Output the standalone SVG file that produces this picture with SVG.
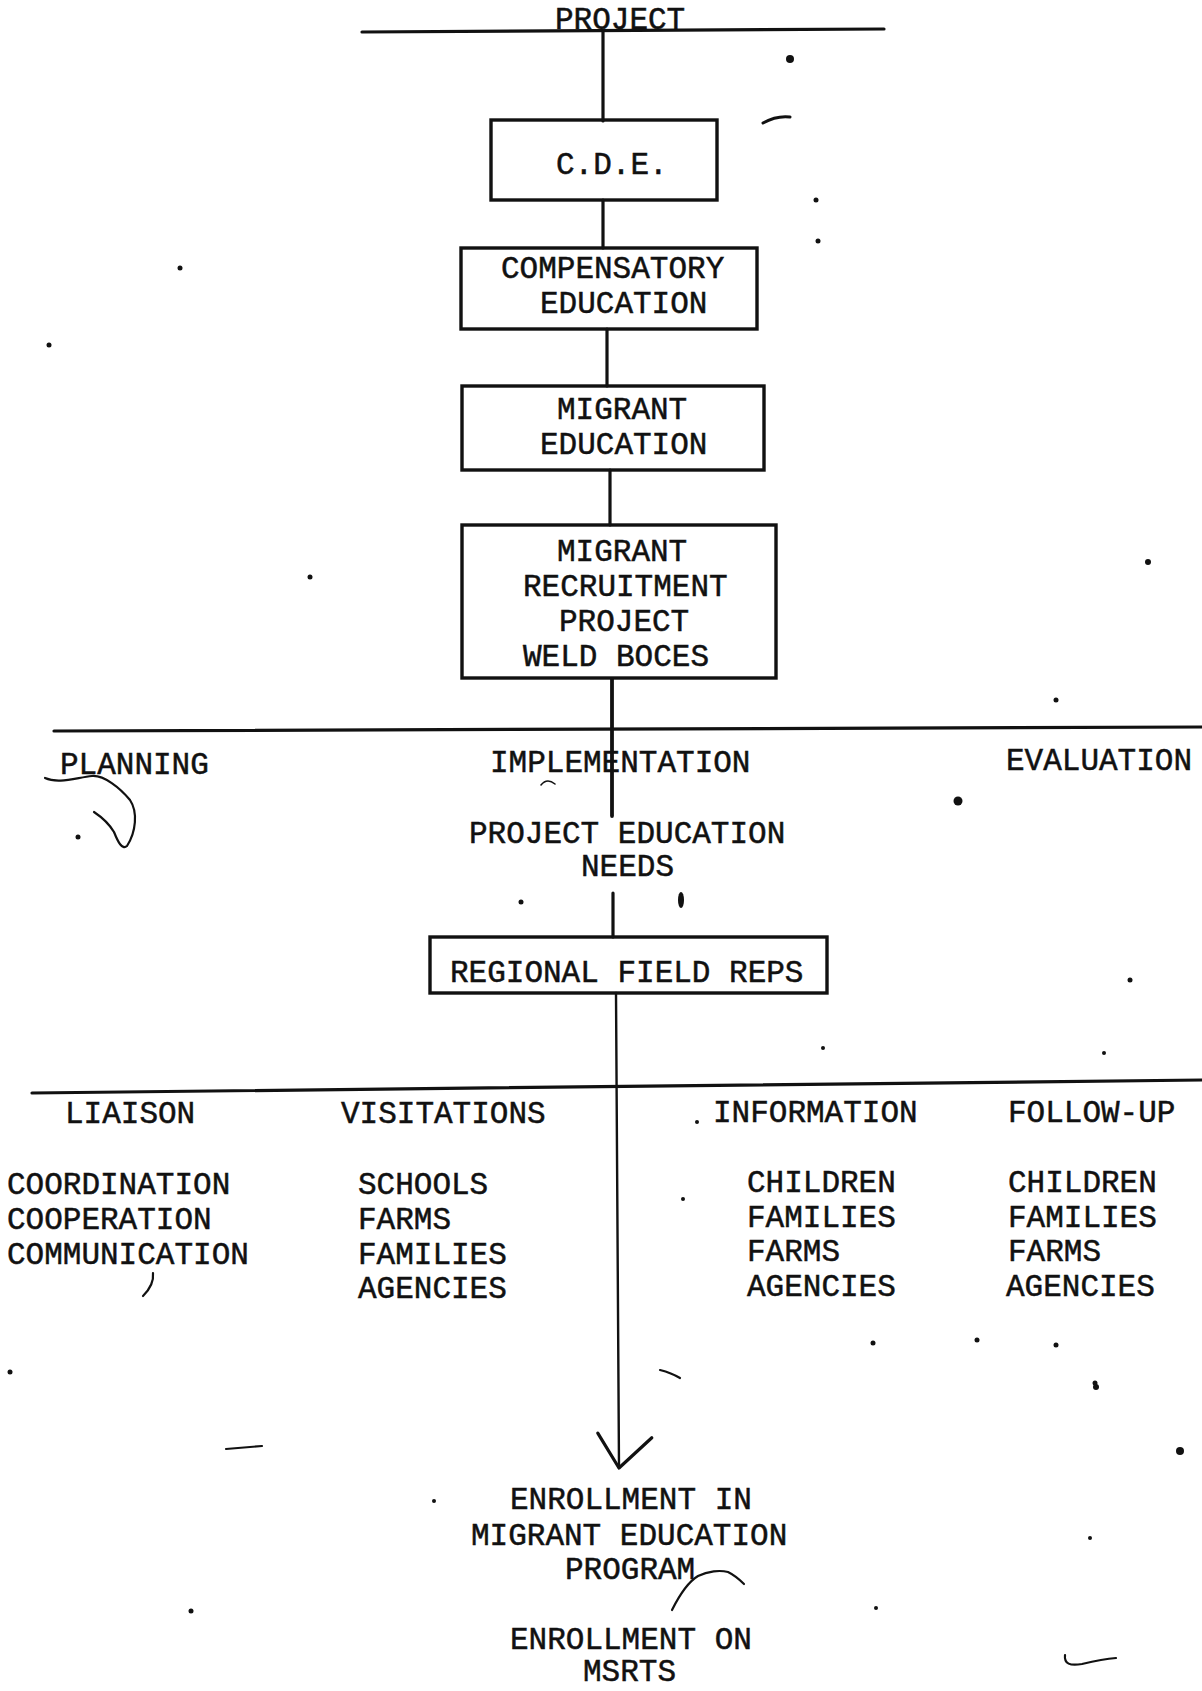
<svg xmlns="http://www.w3.org/2000/svg" width="1202" height="1691" viewBox="0 0 1202 1691">
<style>
.t{font-family:"Liberation Mono","DejaVu Sans Mono",monospace;font-size:31px;fill:#111;stroke:#111;stroke-width:0.5;}
.box{fill:none;stroke:#111;stroke-width:3.4;}
.ln{fill:none;stroke:#111;stroke-width:3.2;stroke-linecap:round;}
.thin{fill:none;stroke:#111;stroke-width:2.4;stroke-linecap:round;}
.pen{fill:none;stroke:#111;stroke-width:2.2;stroke-linecap:round;stroke-linejoin:round;}
.sp{fill:#111;}
</style>
<defs>
<marker id="vhead" markerUnits="userSpaceOnUse" markerWidth="80" markerHeight="80" refX="0" refY="0" orient="auto" overflow="visible">
<path d="M-35,21 L0,0 L-30,-33" fill="none" stroke="#111" stroke-width="3.2" stroke-linecap="round" stroke-linejoin="round"/>
</marker>
</defs>
<rect width="1202" height="1691" fill="#fff"/>

<g id="connectors">
<path class="ln" d="M362,32 L884,29"/>
<path class="ln" d="M603,32 V121"/>
<path class="ln" d="M603,200 V248"/>
<path class="ln" d="M607,329 V386"/>
<path class="ln" d="M610,470 V525"/>
<path class="ln" d="M612,679 V816" style="stroke-width:3.8"/>
<path class="ln" d="M54,731 L1202,727"/>
<path class="ln" d="M613,893 V937"/>
<path class="ln" d="M32,1093 L1202,1080"/>
<path class="thin" d="M616,993 L619,1468" marker-end="url(#vhead)"/>
</g>

<g id="project">
<text class="t" x="555" y="29">PROJECT</text>
</g>

<g id="cde">
<rect class="box" x="491" y="120" width="226" height="80"/>
<text class="t" x="556" y="174">C.D.E.</text>
</g>

<g id="compensatory">
<rect class="box" x="461" y="248" width="296" height="81"/>
<text class="t" x="501" y="278">COMPENSATORY</text>
<text class="t" x="540" y="313">EDUCATION</text>
</g>

<g id="migrant-education">
<rect class="box" x="462" y="386" width="302" height="84"/>
<text class="t" x="557" y="419">MIGRANT</text>
<text class="t" x="540" y="454">EDUCATION</text>
</g>

<g id="recruitment">
<rect class="box" x="462" y="525" width="314" height="153"/>
<text class="t" x="557" y="561">MIGRANT</text>
<text class="t" x="523" y="596">RECRUITMENT</text>
<text class="t" x="559" y="631">PROJECT</text>
<text class="t" x="523" y="666">WELD BOCES</text>
</g>

<g id="phases">
<text class="t" x="60" y="774">PLANNING</text>
<text class="t" x="490" y="772">IMPLEMENTATION</text>
<text class="t" x="1006" y="770">EVALUATION</text>
</g>

<g id="needs">
<text class="t" x="469" y="843">PROJECT EDUCATION</text>
<text class="t" x="581" y="876">NEEDS</text>
</g>

<g id="field-reps">
<rect class="box" x="430" y="937" width="397" height="56"/>
<text class="t" x="450" y="982">REGIONAL FIELD REPS</text>
</g>

<g id="liaison">
<text class="t" x="65" y="1123">LIAISON</text>
<text class="t" x="7" y="1194">COORDINATION</text>
<text class="t" x="7" y="1229">COOPERATION</text>
<text class="t" x="7" y="1264">COMMUNICATION</text>
</g>

<g id="visitations">
<text class="t" x="341" y="1123">VISITATIONS</text>
<text class="t" x="358" y="1194">SCHOOLS</text>
<text class="t" x="358" y="1229">FARMS</text>
<text class="t" x="358" y="1264">FAMILIES</text>
<text class="t" x="358" y="1298">AGENCIES</text>
</g>

<g id="information">
<text class="t" x="713" y="1122">INFORMATION</text>
<text class="t" x="747" y="1192">CHILDREN</text>
<text class="t" x="747" y="1227">FAMILIES</text>
<text class="t" x="747" y="1261">FARMS</text>
<text class="t" x="747" y="1296">AGENCIES</text>
</g>

<g id="follow-up">
<text class="t" x="1008" y="1122">FOLLOW-UP</text>
<text class="t" x="1008" y="1192">CHILDREN</text>
<text class="t" x="1008" y="1227">FAMILIES</text>
<text class="t" x="1008" y="1261">FARMS</text>
<text class="t" x="1006" y="1296">AGENCIES</text>
</g>

<g id="enrollment-program">
<text class="t" x="510" y="1509">ENROLLMENT IN</text>
<text class="t" x="471" y="1545">MIGRANT EDUCATION</text>
<text class="t" x="565" y="1579">PROGRAM</text>
</g>

<g id="enrollment-msrts">
<text class="t" x="510" y="1649">ENROLLMENT ON</text>
<text class="t" x="583" y="1681">MSRTS</text>
</g>

<g id="pen-marks">
<path class="pen" d="M45,778 C58,784 75,778 92,776 C104,775 120,788 130,800 C138,812 136,832 127,846 C122,850 118,842 114,832 C108,822 100,816 94,812"/>
<path class="pen" d="M153,1273 C154,1282 149,1290 143,1296"/>
<path class="pen" d="M672,1610 C680,1594 688,1582 698,1576 C708,1571 720,1570 728,1572 C734,1575 740,1580 744,1584"/>
<path class="pen" d="M1065,1655 C1064,1664 1070,1666 1082,1664 C1095,1661 1105,1659 1116,1658"/>
<path class="pen" d="M763,123 C772,118 782,116 790,117" style="stroke-width:3"/>
<path class="pen" d="M226,1449 L262,1446"/>
<path class="pen" d="M660,1370 C668,1372 675,1375 680,1378"/>
<path class="pen" d="M541,785 C545,780 550,780 555,784" style="stroke-width:1.6"/>
</g>

<g id="specks">
<circle class="sp" cx="790" cy="59" r="4"/>
<circle class="sp" cx="958" cy="801" r="4.5"/>
<ellipse class="sp" cx="681" cy="900" rx="3" ry="8"/>
<circle class="sp" cx="1180" cy="1451" r="4"/>
<circle class="sp" cx="1096" cy="1387" r="3"/>
<circle class="sp" cx="1148" cy="562" r="3"/>
<circle class="sp" cx="78" cy="837" r="2.5"/>
<circle class="sp" cx="818" cy="241" r="2.5"/>
<circle class="sp" cx="310" cy="577" r="2.5"/>
<circle class="sp" cx="521" cy="902" r="2.5"/>
<circle class="sp" cx="1130" cy="980" r="2.5"/>
<circle class="sp" cx="1056" cy="1345" r="2.5"/>
<circle class="sp" cx="977" cy="1340" r="2.5"/>
<circle class="sp" cx="180" cy="268" r="2.5"/>
<circle class="sp" cx="49" cy="345" r="2.5"/>
<circle class="sp" cx="873" cy="1343" r="2.5"/>
<circle class="sp" cx="1095" cy="1383" r="2.5"/>
<circle class="sp" cx="683" cy="1199" r="2"/>
<circle class="sp" cx="697" cy="1122" r="2"/>
<circle class="sp" cx="823" cy="1048" r="2"/>
<circle class="sp" cx="1056" cy="700" r="2.5"/>
<circle class="sp" cx="816" cy="200" r="2.5"/>
<circle class="sp" cx="1104" cy="1053" r="2"/>
<circle class="sp" cx="191" cy="1611" r="2.5"/>
<circle class="sp" cx="10" cy="1372" r="2.5"/>
<circle class="sp" cx="434" cy="1501" r="2"/>
<circle class="sp" cx="876" cy="1608" r="2"/>
<circle class="sp" cx="1090" cy="1538" r="2"/>
</g>
</svg>
